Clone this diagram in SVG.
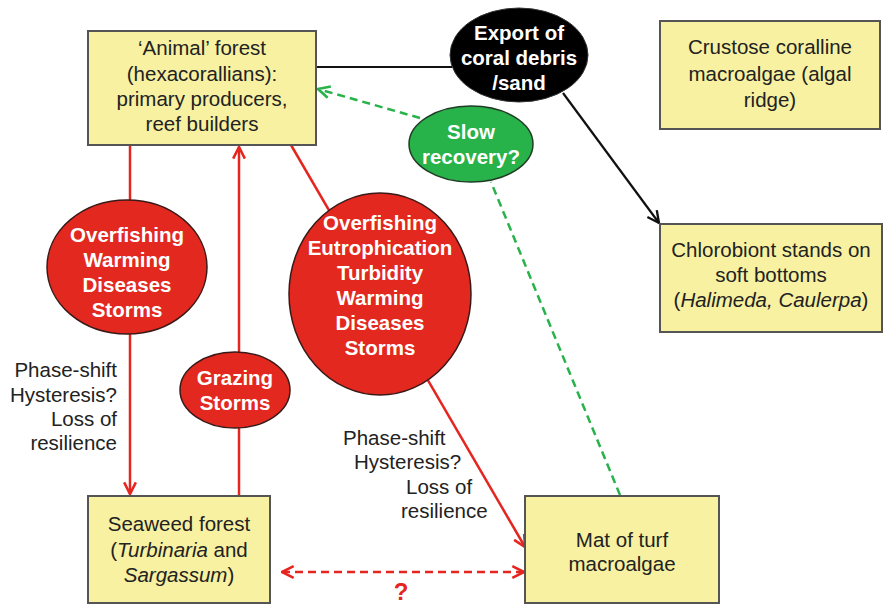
<svg xmlns="http://www.w3.org/2000/svg" width="883" height="606" viewBox="0 0 883 606">
<style>
.box{fill:#f7f1a1;stroke:#555;stroke-width:2}
.t{font-family:"Liberation Sans",Arial,sans-serif;font-size:20.5px;fill:#222;text-anchor:middle}
.w{font-family:"Liberation Sans",Arial,sans-serif;font-size:20.5px;font-weight:bold;fill:#fff;text-anchor:middle}
.red{fill:#e2281f;stroke:#3a1a18;stroke-width:1.5}
.rl{stroke:#e5251f;stroke-width:2.5;fill:none}
.bl{stroke:#111;stroke-width:2.2;fill:none}
.gl{stroke:#27b24a;stroke-width:2.5;fill:none;stroke-dasharray:8 5}
.rd{stroke:#e5251f;stroke-width:2.5;fill:none;stroke-dasharray:8 5}
</style>
<defs>
<marker id="ar" viewBox="0 0 12 12" refX="11" refY="6" markerWidth="14" markerHeight="14" markerUnits="userSpaceOnUse" orient="auto-start-reverse"><path d="M1,1 L11,6 L1,11" fill="none" stroke="#e5251f" stroke-width="2.2"/></marker>
<marker id="ab" viewBox="0 0 12 12" refX="11" refY="6" markerWidth="14" markerHeight="14" markerUnits="userSpaceOnUse" orient="auto"><path d="M1,1 L11,6 L1,11" fill="none" stroke="#111" stroke-width="2"/></marker>
<marker id="ag" viewBox="0 0 12 12" refX="11" refY="6" markerWidth="14" markerHeight="14" markerUnits="userSpaceOnUse" orient="auto"><path d="M1,1 L11,6 L1,11" fill="none" stroke="#27b24a" stroke-width="2.2"/></marker>
</defs>
<rect width="883" height="606" fill="#fff"/>
<g id="connectors">
<line class="bl" x1="316" y1="67" x2="452" y2="67"/>
<line class="bl" x1="563" y1="93" x2="659" y2="223" marker-end="url(#ab)"/>
<line class="rl" x1="130" y1="145" x2="130" y2="201"/>
<line class="rl" x1="130" y1="334" x2="130" y2="494" marker-end="url(#ar)"/>
<line class="rl" x1="239" y1="495" x2="239" y2="428"/>
<line class="rl" x1="239" y1="352" x2="239" y2="147" marker-end="url(#ar)"/>
<line class="rl" x1="291" y1="145" x2="525" y2="547" marker-end="url(#ar)"/>
<line class="gl" x1="620" y1="495" x2="491" y2="182"/>
<line class="gl" x1="420" y1="118" x2="318" y2="89" marker-end="url(#ag)"/>
<line class="rd" x1="282" y1="572" x2="524" y2="572" marker-start="url(#ar)" marker-end="url(#ar)"/>
</g>
<g id="animal-forest">
<rect class="box" x="88" y="31" width="228" height="114"/>
<text class="t" x="202" y="55">‘Animal’ forest</text>
<text class="t" x="202" y="81">(hexacorallians):</text>
<text class="t" x="202" y="106">primary producers,</text>
<text class="t" x="202" y="131">reef builders</text>
</g>
<g id="export">
<ellipse cx="519" cy="55" rx="69" ry="47" fill="#000" stroke="#333" stroke-width="1"/>
<text class="w" x="519" y="40">Export of</text>
<text class="w" x="519" y="65">coral debris</text>
<text class="w" x="519" y="90">/sand</text>
</g>
<g id="crustose">
<rect class="box" x="660" y="21" width="220" height="108"/>
<text class="t" x="770" y="54">Crustose coralline</text>
<text class="t" x="770" y="81">macroalgae (algal</text>
<text class="t" x="770" y="107">ridge)</text>
</g>
<g id="slow-recovery">
<ellipse cx="471" cy="144" rx="62" ry="38" fill="#27b24a" stroke="#1f3d25" stroke-width="1.5"/>
<text class="w" x="471" y="139">Slow</text>
<text class="w" x="471" y="164">recovery?</text>
</g>
<g id="chlorobiont">
<rect class="box" x="660" y="224" width="222" height="108"/>
<text class="t" x="771" y="257">Chlorobiont stands on</text>
<text class="t" x="771" y="282">soft bottoms</text>
<text class="t" x="771" y="307">(<tspan font-style="italic">Halimeda, Caulerpa</tspan>)</text>
</g>
<g id="stress-left">
<ellipse class="red" cx="127" cy="267" rx="80" ry="67"/>
<text class="w" x="127" y="242">Overfishing</text>
<text class="w" x="127" y="267">Warming</text>
<text class="w" x="127" y="292">Diseases</text>
<text class="w" x="127" y="317">Storms</text>
</g>
<g id="grazing">
<ellipse class="red" cx="235" cy="390" rx="55" ry="38"/>
<text class="w" x="235" y="385">Grazing</text>
<text class="w" x="235" y="410">Storms</text>
</g>
<g id="stress-big">
<ellipse class="red" cx="380" cy="294" rx="91" ry="101"/>
<text class="w" x="380" y="230">Overfishing</text>
<text class="w" x="380" y="255">Eutrophication</text>
<text class="w" x="380" y="280">Turbidity</text>
<text class="w" x="380" y="305">Warming</text>
<text class="w" x="380" y="330">Diseases</text>
<text class="w" x="380" y="355">Storms</text>
</g>
<g id="label-left">
<text class="t" x="117" y="377" style="text-anchor:end">Phase-shift</text>
<text class="t" x="117" y="402" style="text-anchor:end">Hysteresis?</text>
<text class="t" x="117" y="426" style="text-anchor:end">Loss of</text>
<text class="t" x="117" y="450" style="text-anchor:end">resilience</text>
</g>
<g id="label-mid">
<text class="t" x="343" y="445" style="text-anchor:start">Phase-shift</text>
<text class="t" x="354" y="469" style="text-anchor:start">Hysteresis?</text>
<text class="t" x="406" y="494" style="text-anchor:start">Loss of</text>
<text class="t" x="401" y="518" style="text-anchor:start">resilience</text>
</g>
<g id="seaweed">
<rect class="box" x="88" y="496" width="182" height="107"/>
<text class="t" x="179" y="531">Seaweed forest</text>
<text class="t" x="179" y="557">(<tspan font-style="italic">Turbinaria</tspan> and</text>
<text class="t" x="179" y="582"><tspan font-style="italic">Sargassum</tspan>)</text>
</g>
<g id="turf">
<rect class="box" x="525" y="496" width="194" height="107"/>
<text class="t" x="622" y="547">Mat of turf</text>
<text class="t" x="622" y="571">macroalgae</text>
</g>
<text x="401" y="600" font-family="Liberation Sans,Arial,sans-serif" font-size="24" font-weight="bold" fill="#e5251f" text-anchor="middle">?</text>
</svg>
